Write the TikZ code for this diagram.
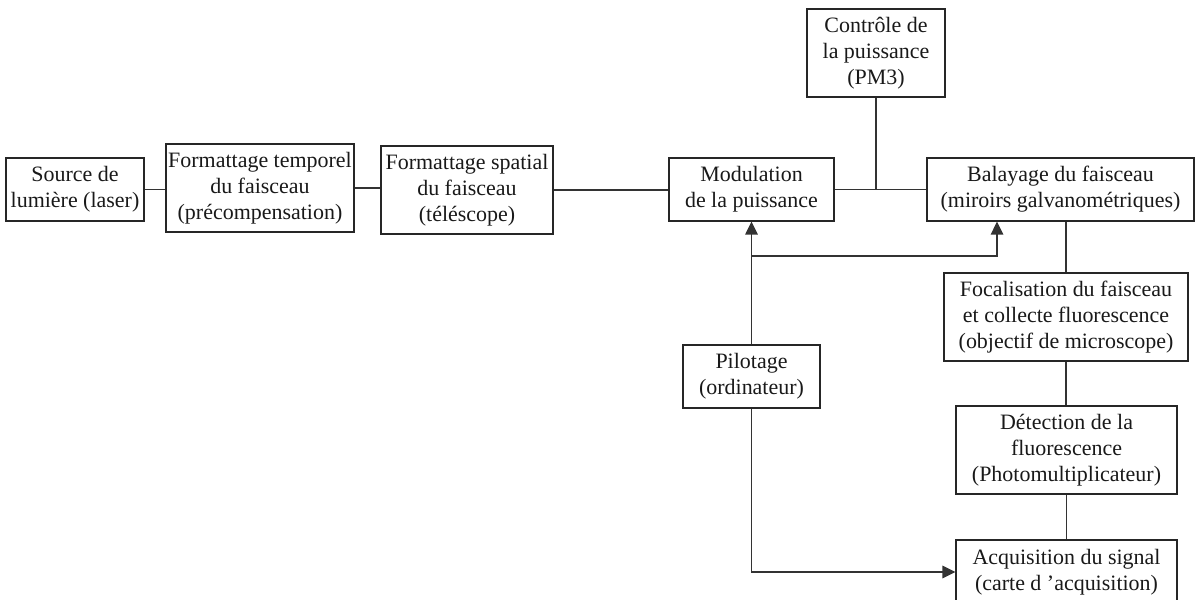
\documentclass[tikz,border=0pt]{standalone}
\usepackage{fontspec}
\setmainfont{Liberation Serif}
\usetikzlibrary{arrows.meta}
\begin{document}
\begin{tikzpicture}[x=0.02cm,y=-0.02cm,
  box/.style={draw=black!85, line width=0.7pt, align=center, inner sep=1pt,
    font=\fontsize{12.5}{14.8}\selectfont, text=black!90},
  link/.style={draw=black!80, line width=0.8pt},
  arr/.style={link, -{Triangle[length=0.26cm,width=0.25cm]}}]
\useasboundingbox (0,0) rectangle (1197,599);
\node[box, minimum width=2.76cm, minimum height=1.26cm] (src) at (75,189.5) {Source de\\lumière (laser)};
\node[box, minimum width=3.76cm, minimum height=1.76cm] (tmp) at (260,188) {Formattage temporel\\du faisceau\\(précompensation)};
\node[box, minimum width=3.44cm, minimum height=1.76cm] (spa) at (467,190) {Formattage spatial\\du faisceau\\(téléscope)};
\node[box, minimum width=3.30cm, minimum height=1.26cm] (mod) at (751.5,189.5) {Modulation\\de la puissance};
\node[box, minimum width=2.76cm, minimum height=1.76cm] (ctl) at (876,53) {Contrôle de\\la puissance\\(PM3)};
\node[box, minimum width=5.34cm, minimum height=1.26cm] (bal) at (1060.5,189.5) {Balayage du faisceau\\(miroirs galvanométriques)};
\node[box, minimum width=4.88cm, minimum height=1.76cm] (foc) at (1066,317) {Focalisation du faisceau\\et collecte fluorescence\\(objectif de microscope)};
\node[box, minimum width=4.42cm, minimum height=1.76cm] (det) at (1066.5,450) {Détection de la\\fluorescence\\(Photomultiplicateur)};
\node[box, minimum width=4.42cm, minimum height=1.28cm] (acq) at (1066.5,572) {Acquisition du signal\\(carte d ’acquisition)};
\node[box, minimum width=2.74cm, minimum height=1.26cm] (pil) at (751.5,376.5) {Pilotage\\(ordinateur)};
\coordinate (bt) at ([xshift=-1.27cm]bal.south);
\coordinate (split) at (751.5,256);
\coordinate (acqin) at (acq.west |- 0,572);
\draw[link] (src.east) -- (src.east -| tmp.west);
\draw[link] (tmp.east) -- (tmp.east -| spa.west);
\draw[link] (spa.east) -- (spa.east -| mod.west);
\draw[link] (mod.east) -- (mod.east -| bal.west);
\draw[link] (ctl.south) -- (ctl.south |- mod.east);
\draw[link] (bal.south -| foc.north) -- (foc.north);
\draw[link] (foc.south) -- (foc.south |- det.north);
\draw[link] (det.south) -- (det.south |- acq.north);
\draw[arr] (pil.north) -- (mod.south);
\draw[arr] (split) -| (bt);
\draw[arr] (pil.south) |- (acqin);
\end{tikzpicture}
\end{document}
